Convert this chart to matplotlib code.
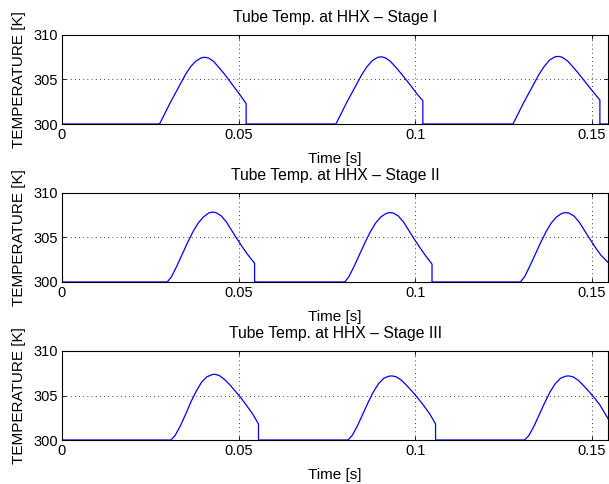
import matplotlib
matplotlib.use('Agg')
import matplotlib.pyplot as plt

plt.rcParams['font.family'] = ['Liberation Sans', 'DejaVu Sans']
plt.rcParams['font.size'] = 10.5

# Stage I readings (time in s, temperature in K)
time_stage1 = [0.0,
               0.0276, 0.0290, 0.0305, 0.0320, 0.0335, 0.0350, 0.0365, 0.0380, 0.0395, 0.0405,
               0.0415, 0.0430, 0.0445, 0.0460, 0.0475, 0.0490, 0.0505, 0.0521, 0.0521,
               0.0775, 0.0789, 0.0804, 0.0819, 0.0834, 0.0849, 0.0864, 0.0879, 0.0894, 0.0904,
               0.0914, 0.0929, 0.0944, 0.0959, 0.0974, 0.0989, 0.1004, 0.1021, 0.1021,
               0.1276, 0.1290, 0.1305, 0.1320, 0.1335, 0.1350, 0.1365, 0.1380, 0.1395, 0.1405,
               0.1415, 0.1430, 0.1445, 0.1460, 0.1475, 0.1490, 0.1505, 0.1522, 0.1522,
               0.1545]
temp_stage1 = [300.0,
               300.0, 301.1, 302.3, 303.4, 304.5, 305.6, 306.5, 307.1, 307.45, 307.5,
               307.4, 307.0, 306.3, 305.6, 304.8, 304.0, 303.2, 302.3, 300.0,
               300.0, 301.1, 302.3, 303.4, 304.5, 305.6, 306.5, 307.15, 307.5, 307.55,
               307.45, 307.05, 306.4, 305.7, 304.95, 304.2, 303.4, 302.6, 300.0,
               300.0, 301.1, 302.3, 303.4, 304.5, 305.6, 306.5, 307.2, 307.55, 307.6,
               307.5, 307.1, 306.45, 305.75, 305.0, 304.25, 303.5, 302.7, 300.0,
               300.0]

# Stage II readings
time_stage2 = [0.0,
               0.0298, 0.0310, 0.0325, 0.0340, 0.0355, 0.0370, 0.0385, 0.0400, 0.0415, 0.0425,
               0.0435, 0.0450, 0.0465, 0.0480, 0.0495, 0.0510, 0.0525, 0.0545, 0.0545,
               0.0800, 0.0812, 0.0827, 0.0842, 0.0857, 0.0872, 0.0887, 0.0902, 0.0917, 0.0927,
               0.0937, 0.0952, 0.0967, 0.0982, 0.0997, 0.1012, 0.1027, 0.1047, 0.1047,
               0.1297, 0.1309, 0.1324, 0.1339, 0.1354, 0.1369, 0.1384, 0.1399, 0.1414, 0.1424,
               0.1434, 0.1449, 0.1464, 0.1479, 0.1494, 0.1509, 0.1524, 0.1545]
temp_stage2 = [300.0,
               300.0, 300.6, 301.8, 303.1, 304.4, 305.6, 306.6, 307.3, 307.75, 307.85,
               307.8, 307.45, 306.75, 305.8, 304.85, 303.95, 303.1, 302.1, 300.0,
               300.0, 300.6, 301.8, 303.1, 304.4, 305.6, 306.6, 307.3, 307.7, 307.8,
               307.75, 307.4, 306.7, 305.75, 304.8, 303.9, 303.05, 302.0, 300.0,
               300.0, 300.6, 301.8, 303.1, 304.4, 305.6, 306.6, 307.3, 307.7, 307.8,
               307.75, 307.4, 306.7, 305.75, 304.8, 303.9, 303.05, 302.2]

# Stage III readings
time_stage3 = [0.0,
               0.0308, 0.0320, 0.0335, 0.0350, 0.0365, 0.0380, 0.0395, 0.0410, 0.0425, 0.0433,
               0.0445, 0.0460, 0.0475, 0.0490, 0.0505, 0.0520, 0.0540, 0.0556, 0.0556,
               0.0809, 0.0821, 0.0836, 0.0851, 0.0866, 0.0881, 0.0896, 0.0911, 0.0926, 0.0934,
               0.0946, 0.0961, 0.0976, 0.0991, 0.1006, 0.1021, 0.1041, 0.1057, 0.1057,
               0.1309, 0.1321, 0.1336, 0.1351, 0.1366, 0.1381, 0.1396, 0.1411, 0.1426, 0.1434,
               0.1446, 0.1461, 0.1476, 0.1491, 0.1506, 0.1521, 0.1545]
temp_stage3 = [300.0,
               300.0, 300.5, 301.6, 302.9, 304.3, 305.5, 306.5, 307.1, 307.35, 307.38,
               307.25, 306.8, 306.2, 305.5, 304.8, 304.0, 302.9, 301.8, 300.0,
               300.0, 300.5, 301.6, 302.9, 304.2, 305.4, 306.35, 306.95, 307.18, 307.2,
               307.1, 306.7, 306.1, 305.45, 304.75, 304.0, 302.9, 301.8, 300.0,
               300.0, 300.5, 301.6, 302.9, 304.2, 305.4, 306.35, 306.95, 307.18, 307.2,
               307.1, 306.7, 306.1, 305.45, 304.75, 304.0, 302.4]

stages = ['I', 'II', 'III']
times = [time_stage1, time_stage2, time_stage3]
temps = [temp_stage1, temp_stage2, temp_stage3]

x_ticks = [0, 0.05, 0.1, 0.15]
x_tick_labels = ['0', '0.05', '0.1', '0.15']
y_ticks = [300, 305, 310]

fig = plt.figure(figsize=(6.09, 4.84), dpi=100)

boxes = [[0.1018, 0.7438, 0.8966, 0.1839],
         [0.1018, 0.4174, 0.8966, 0.1839],
         [0.1018, 0.0909, 0.8966, 0.1839]]

for box, stage, t, T in zip(boxes, stages, times, temps):
    ax = fig.add_axes(box)
    ax.plot(t, T, color='blue', linewidth=0.9)
    ax.set_xlim(0, 0.1545)
    ax.set_ylim(300, 310)
    ax.set_xticks(x_ticks)
    ax.set_xticklabels(x_tick_labels)
    ax.set_yticks(y_ticks)
    ax.grid(True, color='black', linestyle=(0, (1, 4)), linewidth=0.6)
    ax.tick_params(direction='in', top=True, right=True, length=3, width=0.6, pad=3)
    for spine in ax.spines.values():
        spine.set_linewidth(0.8)
    ax.set_title('Tube Temp. at HHX \u2013 Stage ' + stage, pad=9, fontsize=11.3)
    ax.set_xlabel('Time [s]', labelpad=7, fontsize=11)
    ax.set_ylabel('TEMPERATURE [K]', labelpad=5, fontsize=11)

fig.savefig('out.png', dpi=100)
